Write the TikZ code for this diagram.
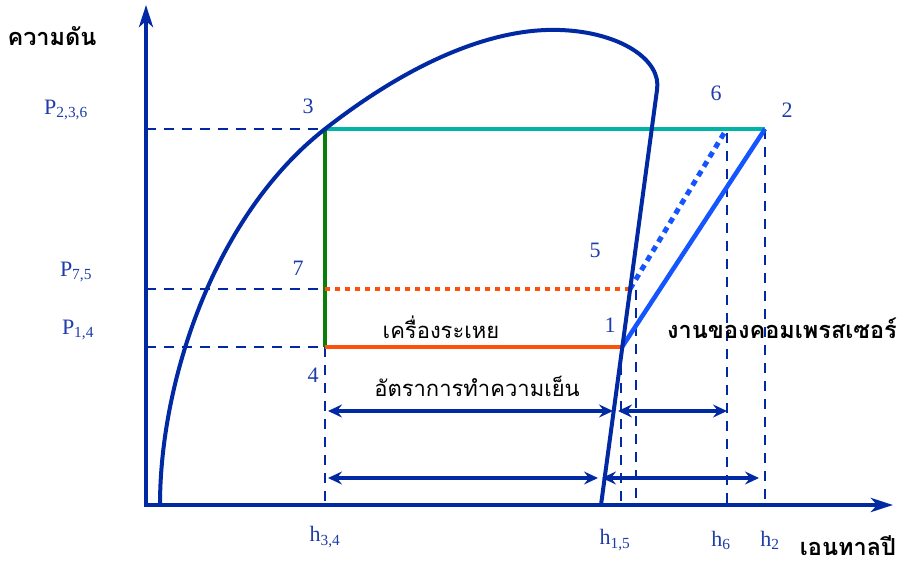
\documentclass[tikz,border=0pt]{standalone}
\usepackage{fontspec}
\setmainfont{Liberation Serif}
\newfontfamily\thai[Script=Thai]{Loma}
\usetikzlibrary{arrows.meta}
\definecolor{dblue}{RGB}{0,41,163}
\definecolor{lblue}{RGB}{30,60,170}
\definecolor{teal2}{RGB}{0,181,165}
\definecolor{green2}{RGB}{10,125,10}
\definecolor{orange2}{RGB}{255,80,10}
\definecolor{bblue}{RGB}{20,85,255}
\tikzset{
  axisline/.style={line width=4pt, dblue, -{Stealth[length=22pt,width=14pt,inset=6pt]}},
  guide/.style={line width=2.2pt, dblue, dash pattern=on 10pt off 8pt},
  dome/.style={line width=4pt, dblue, line join=round},
  span/.style={line width=4pt, dblue, {Stealth[length=14pt,width=13pt,inset=5pt]}-{Stealth[length=14pt,width=13pt,inset=5pt]}},
  lab/.style={text=lblue, font=\fontsize{22}{24}\selectfont, inner sep=0pt},
  thaibold/.style={text=black, font=\thai\bfseries\fontsize{23.5}{25}\selectfont, inner sep=0pt},
  thainorm/.style={text=black, font=\thai\fontsize{22}{24}\selectfont, inner sep=0pt}
}
\begin{document}
\begin{tikzpicture}[x=1pt,y=-1pt]
\path[use as bounding box, fill=white] (0,0) rectangle (900,565);
% key points
\coordinate (o) at (146,505);
\coordinate (ytop) at (146,5);
\coordinate (xend) at (893,505);
\coordinate (p3) at (325,129);
\coordinate (p4) at (325,347);
\coordinate (p7) at (325,289);
\coordinate (p1) at (622,347);
\coordinate (p5) at (630,289);
\coordinate (p6) at (726,130);
\coordinate (p2) at (765,129);
\coordinate (yP236) at (146,129);
\coordinate (yP75) at (146,289);
\coordinate (yP14) at (146,347);
\coordinate (b34) at (325,505);
\coordinate (b1) at (621,505);
\coordinate (t1) at (621,347);
\coordinate (t5) at (636,290);
\coordinate (b5) at (636,505);
\coordinate (t6) at (727,133);
\coordinate (b6) at (727,505);
\coordinate (b2) at (765,505);
\coordinate (domeR) at (657,90);
\coordinate (domeB) at (601,505);
% guide lines
\draw[guide] (yP236) -- (p3);
\draw[guide] (yP75) -- (p7);
\draw[guide] (yP14) -- (p4);
\draw[guide] (p4) -- (b34);
\draw[guide] (t1) -- (b1);
\draw[guide] (t5) -- (b5);
\draw[guide] (t6) -- (b6);
\draw[guide] (p2) -- (b2);
% cycle
\draw[line width=4pt, teal2] (p3) -- (p2);
\draw[line width=4pt, green2] (p3) -- (p4);
\draw[line width=4pt, orange2] (p4) -- (p1);
\draw[line width=4pt, orange2, dash pattern=on 5pt off 5pt] (p7) -- (p5);
\draw[line width=4.5pt, bblue] (p1) -- (p2);
\draw[line width=5pt, bblue, dash pattern=on 6pt off 5pt] (p5) -- (p6);
% dome
\draw[dome] (160,505) .. controls (160,380) and (215,215) .. (325,129)
  .. controls (430,47) and (510,28) .. (560,30)
  .. controls (620,32) and (662,60) .. (domeR) -- (domeB);
% axes
\draw[axisline] (o) -- (ytop);
\draw[axisline] ([xshift=-2pt]o) -- (xend);
% span arrows
\coordinate (a1l) at (328,411); \coordinate (a1r) at (613,411);
\coordinate (a2l) at (618,411); \coordinate (a2r) at (727,411);
\coordinate (a3l) at (328,478); \coordinate (a3r) at (598,478);
\coordinate (a4l) at (602,478); \coordinate (a4r) at (759,478);
\draw[span] (a1l) -- (a1r);
\draw[span] (a2l) -- (a2r);
\draw[span] (a3l) -- (a3r);
\draw[span] (a4l) -- (a4r);
% point labels
\node[lab] (l3) at (308,106) {3};
\node[lab] (l7) at (298,268) {7};
\node[lab] (l4) at (313,375) {4};
\node[lab] (l1) at (610,325) {1};
\node[lab] (l5) at (595,250) {5};
\node[lab] (l6) at (716,93) {6};
\node[lab] (l2) at (787,110) {2};
% axis value labels
\node[lab] (P236) at (66,110) {P\textsubscript{2,3,6}};
\node[lab] (P75) at (76,272) {P\textsubscript{7,5}};
\node[lab] (P14) at (78,330) {P\textsubscript{1,4}};
\node[lab] (h34) at (325,537) {h\textsubscript{3,4}};
\node[lab] (h15) at (615,540) {h\textsubscript{1,5}};
\node[lab] (h6) at (721,540) {h\textsubscript{6}};
\node[lab] (h2) at (770,540) {h\textsubscript{2}};
% Thai texts
\node[thaibold] (pres) at (52,36) {ความดัน};
\node[thaibold] (enth) at (848,546) {เอนทาลปี};
\node[thaibold] (work) at (782,328) {งานของคอมเพรสเซอร์};
\node[thainorm] (evap) at (441,327) {เครื่องระเหย};
\node[thainorm] (cool) at (477,386) {อัตราการทำความเย็น};
\end{tikzpicture}
\end{document}
